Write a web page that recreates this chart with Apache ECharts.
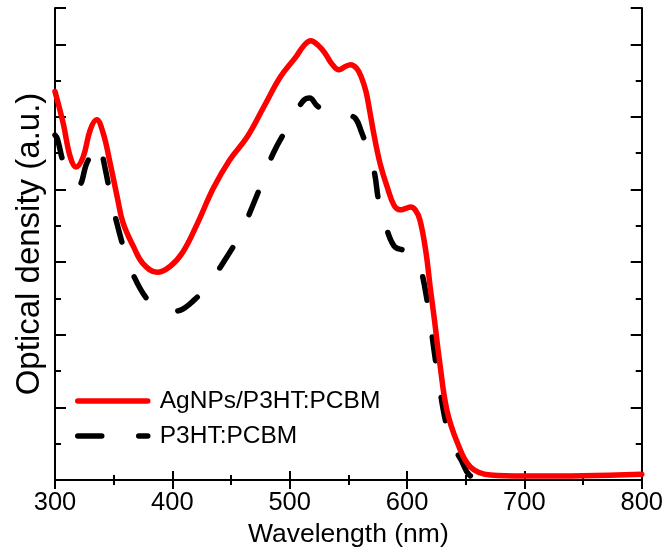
<!DOCTYPE html>
<html>
<head>
<meta charset="utf-8">
<script src="https://cdn.jsdelivr.net/npm/echarts@6/dist/echarts.min.js"></script>
<style>
  html, body { margin: 0; padding: 0; background: #fff; }
  #chart { width: 666px; height: 555px; }
</style>
</head>
<body>
<div id="chart"></div>
<script>
// AgNPs/P3HT:PCBM (red, solid)
const agWavelength = [300, 307, 313, 318, 324, 330, 335.5, 341, 347, 353, 358, 367, 375, 387, 398, 409, 421, 435, 449, 464, 478, 492, 505, 512, 518, 524, 530, 536, 542, 547, 552, 557, 561, 565, 568, 572, 577, 583, 589, 594, 599, 603, 607, 611, 616, 620, 623, 628, 634, 643, 654, 671, 700, 750, 800];
const agDensity = [5.35, 4.91, 4.45, 4.31, 4.45, 4.82, 4.96, 4.78, 4.36, 3.90, 3.54, 3.21, 2.98, 2.86, 2.94, 3.14, 3.52, 4.02, 4.41, 4.73, 5.14, 5.55, 5.82, 5.98, 6.05, 5.99, 5.88, 5.73, 5.65, 5.69, 5.72, 5.67, 5.55, 5.35, 5.10, 4.74, 4.36, 4.04, 3.78, 3.72, 3.74, 3.76, 3.72, 3.58, 3.15, 2.62, 2.25, 1.60, 0.96, 0.51, 0.18, 0.07, 0.055, 0.06, 0.08];

// P3HT:PCBM (black, dashed)
const p3Wavelength = [300, 302, 307, 314, 320, 327, 333, 336, 339, 343, 348, 353, 360, 368, 378, 387, 398, 407, 418, 429, 444, 459, 468, 478, 486, 500, 506, 512, 517, 523, 530, 536, 543, 549, 556, 561, 566, 572, 576, 582, 589, 596, 601, 606, 611, 617, 623, 628, 634, 640, 646, 653, 662];
const p3Density = [4.75, 4.70, 4.38, 4.12, 4.06, 4.36, 4.55, 4.64, 4.55, 4.27, 3.86, 3.52, 3.12, 2.78, 2.50, 2.36, 2.32, 2.34, 2.47, 2.66, 3.01, 3.42, 3.76, 4.16, 4.50, 4.91, 5.08, 5.23, 5.26, 5.16, 5.08, 5.07, 5.06, 5.03, 4.98, 4.80, 4.57, 4.25, 3.83, 3.49, 3.22, 3.17, 3.16, 3.08, 2.94, 2.48, 1.79, 1.24, 0.73, 0.45, 0.28, 0.07, 0.02];

const xTicks = [300, 400, 500, 600, 700, 800];
const font = '"Liberation Sans", Arial, sans-serif';

const pairs = (xs, ys) => xs.map((x, i) => [x, ys[i]]);

const chart = echarts.init(document.getElementById('chart'));

const hiddenAxis = {
  axisLine: { show: true, lineStyle: { color: '#000', width: 2 } },
  axisLabel: { show: false },
  splitLine: { show: false },
};

const option = {
  animation: false,
  backgroundColor: '#fff',
  grid: { left: 55, right: 24, top: 8, bottom: 75 },
  legend: {
    orient: 'vertical',
    left: 70,
    top: 381,
    itemWidth: 70,
    itemHeight: 14,
    itemGap: 5,
    data: ['AgNPs/P3HT:PCBM', 'P3HT:PCBM'],
    itemStyle: { opacity: 0 },
    lineStyle: { width: 5.5, cap: 'round' },
    textStyle: {
      fontFamily: font,
      fontSize: 24.5,
      color: '#000',
      lineHeight: 30,
      padding: [0, 0, 0, 7],
    },
  },
  xAxis: [
    {
      type: 'value',
      min: xTicks[0],
      max: xTicks[xTicks.length - 1],
      interval: 100,
      position: 'bottom',
      name: 'Wavelength (nm)',
      nameLocation: 'middle',
      nameGap: 40,
      nameTextStyle: { fontFamily: font, fontSize: 26.5, color: '#000' },
      axisLine: { lineStyle: { color: '#000', width: 2 } },
      axisTick: { inside: true, length: 9, lineStyle: { color: '#000', width: 2 } },
      minorTick: { show: true, splitNumber: 2, length: 5, lineStyle: { color: '#000', width: 2 } },
      axisLabel: { fontFamily: font, fontSize: 25.5, color: '#000', margin: 10 },
      splitLine: { show: false },
    },
    {
      ...hiddenAxis,
      type: 'value',
      min: xTicks[0],
      max: xTicks[xTicks.length - 1],
      interval: 100,
      position: 'top',
      axisTick: { inside: true, length: 9, lineStyle: { color: '#000', width: 2 } },
      minorTick: { show: true, splitNumber: 2, length: 5, lineStyle: { color: '#000', width: 2 } },
    },
  ],
  yAxis: [
    {
      ...hiddenAxis,
      type: 'value',
      min: 0,
      max: 6.5,
      interval: 1,
      position: 'left',
      name: 'Optical density (a.u.)',
      nameLocation: 'middle',
      nameGap: 9,
      nameRotate: 90,
      nameTextStyle: { fontFamily: font, fontSize: 33, color: '#000' },
      axisTick: { inside: true, length: 11, lineStyle: { color: '#000', width: 2 } },
      minorTick: { show: true, splitNumber: 2, length: 6, lineStyle: { color: '#000', width: 2 } },
    },
    {
      ...hiddenAxis,
      type: 'value',
      min: 0,
      max: 6.5,
      interval: 1,
      position: 'right',
      axisTick: { inside: true, length: 11, lineStyle: { color: '#000', width: 2 } },
      minorTick: { show: true, splitNumber: 2, length: 6, lineStyle: { color: '#000', width: 2 } },
    },
  ],
  series: [
    {
      name: 'P3HT:PCBM',
      type: 'line',
      data: pairs(p3Wavelength, p3Density),
      smooth: 0.4,
      showSymbol: false,
      symbol: 'none',
      z: 2,
      lineStyle: { color: '#000', width: 5.5, type: [24, 37], cap: 'round', join: 'round' },
      itemStyle: { color: '#000' },
    },
    {
      name: 'AgNPs/P3HT:PCBM',
      type: 'line',
      data: pairs(agWavelength, agDensity),
      smooth: 0.4,
      showSymbol: false,
      symbol: 'none',
      z: 3,
      lineStyle: { color: '#ff0000', width: 5.5, cap: 'round', join: 'round' },
      itemStyle: { color: '#ff0000' },
    },
  ],
};

chart.setOption(option);
</script>
</body>
</html>
